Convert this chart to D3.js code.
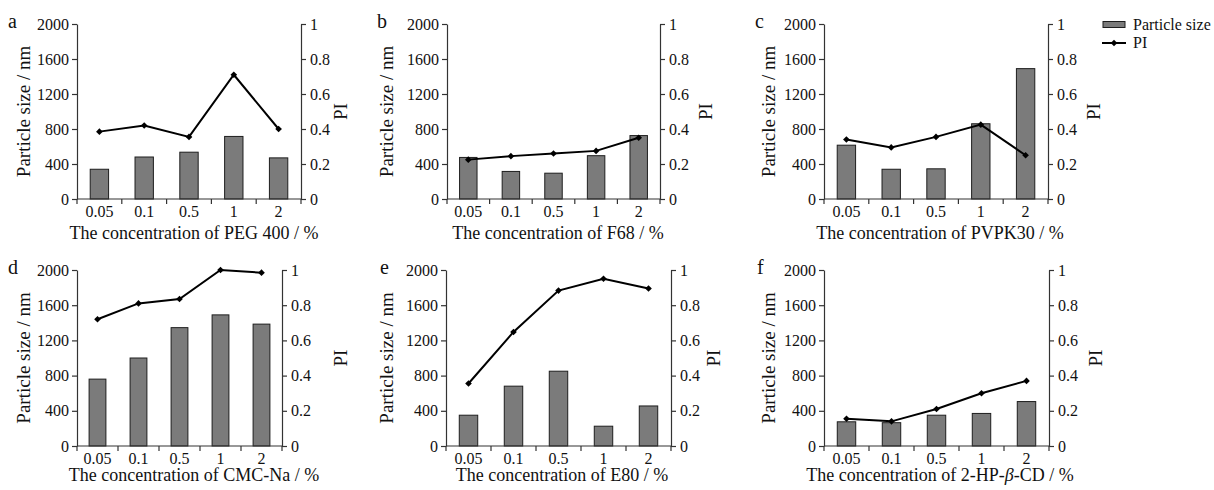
<!DOCTYPE html>
<html>
<head>
<meta charset="utf-8">
<script src="https://cdn.jsdelivr.net/npm/d3@7"></script>
<style>
  html, body { margin: 0; padding: 0; background: #fff; }
  svg { display: block; }
  svg text { font-family: "Liberation Serif", "Times New Roman", serif !important; }
</style>
</head>
<body>
<div id="container"></div>
<script>
// Concentrations on the x axis (same for all panels)
const categories = ["0.05", "0.1", "0.5", "1", "2"];

// Particle size (nm) and PI for each surfactant
const sizePEG = [340, 480, 535, 715, 470];
const piPEG = [0.385, 0.42, 0.355, 0.71, 0.40];
const sizeF68 = [475, 315, 295, 495, 725];
const piF68 = [0.225, 0.245, 0.26, 0.275, 0.35];
const sizePVP = [615, 340, 345, 860, 1490];
const piPVP = [0.34, 0.295, 0.355, 0.425, 0.25];
const sizeCMC = [760, 1000, 1345, 1490, 1385];
const piCMC = [0.72, 0.81, 0.835, 1.0, 0.985];
const sizeE80 = [350, 680, 850, 225, 455];
const piE80 = [0.355, 0.648, 0.883, 0.95, 0.895];
const sizeHPCD = [275, 265, 350, 370, 505];
const piHPCD = [0.155, 0.14, 0.21, 0.30, 0.37];

// Tick labels
const sizeTicks = [0, 400, 800, 1200, 1600, 2000];
const piTicks = [0, 0.2, 0.4, 0.6, 0.8, 1];

const width = 1214;
const height = 490;

const panels = [
  { letter: "a", title: ["The concentration of PEG 400 / %"], size: sizePEG, pi: piPEG,
    left: 77, right: 301, top: 24, bottom: 199, letterX: 8, yTitleX: 30, piX: 347, titleX: 194, titleY: 239 },
  { letter: "b", title: ["The concentration of F68 / %"], size: sizeF68, pi: piF68,
    left: 447, right: 660, top: 24, bottom: 199, letterX: 377, yTitleX: 393, piX: 712, titleX: 558, titleY: 239 },
  { letter: "c", title: ["The concentration of PVPK30 / %"], size: sizePVP, pi: piPVP,
    left: 824, right: 1048, top: 24, bottom: 199, letterX: 755, yTitleX: 775, piX: 1100, titleX: 940, titleY: 239 },
  { letter: "d", title: ["The concentration of CMC-Na / %"], size: sizeCMC, pi: piCMC,
    left: 77, right: 282, top: 270, bottom: 446, letterX: 8, yTitleX: 30, piX: 347, titleX: 194, titleY: 481 },
  { letter: "e", title: ["The concentration of E80 / %"], size: sizeE80, pi: piE80,
    left: 446, right: 671, top: 270, bottom: 446, letterX: 380, yTitleX: 393, piX: 720, titleX: 562, titleY: 481 },
  { letter: "f", title: ["The concentration of 2-HP-", "β", "-CD / %"], size: sizeHPCD, pi: piHPCD,
    left: 824, right: 1049, top: 270, bottom: 446, letterX: 757, yTitleX: 775, piX: 1102, titleX: 940, titleY: 481 },
];

const barFill = "#7b7b7b";
const barStroke = "#1e1e1e";
const axisColor = "#333";
const serif = "Liberation Serif, Times New Roman, serif";

const svg = d3.create("svg").attr("width", width).attr("height", height)
  .attr("font-family", serif);

function styleAxis(g) {
  g.attr("font-family", serif).attr("font-size", 16);
  g.select(".domain").attr("stroke", axisColor).attr("stroke-width", 1.2);
  g.selectAll(".tick line").attr("stroke", axisColor).attr("stroke-width", 1.2);
  g.selectAll(".tick text").attr("fill", "#111");
}

panels.forEach((p) => {
  const g = svg.append("g");

  const x = d3.scaleBand()
    .domain(categories)
    .range([p.left, p.right])
    .paddingInner(0.59)
    .paddingOuter(0.295);

  const yL = d3.scaleLinear().domain([0, 2000]).range([p.bottom, p.top]);
  const yR = d3.scaleLinear().domain([0, 1]).range([p.bottom, p.top]);

  // bars
  g.append("g")
    .selectAll("rect")
    .data(p.size)
    .join("rect")
    .attr("x", (d, i) => x(categories[i]))
    .attr("y", (d) => yL(d))
    .attr("width", x.bandwidth())
    .attr("height", (d) => yL(0) - yL(d))
    .attr("fill", barFill)
    .attr("stroke", barStroke)
    .attr("stroke-width", 1);

  // left axis
  g.append("g")
    .attr("transform", `translate(${p.left},0)`)
    .call(d3.axisLeft(yL).tickValues(sizeTicks).tickSize(5).tickSizeOuter(0).tickPadding(3)
      .tickFormat(d3.format("d")))
    .call(styleAxis);

  // right axis
  g.append("g")
    .attr("transform", `translate(${p.right},0)`)
    .call(d3.axisRight(yR).tickValues(piTicks).tickSize(5).tickSizeOuter(0).tickPadding(4)
      .tickFormat(d3.format("~g")))
    .call(styleAxis);

  // bottom axis: labels centred under bars, ticks at band edges
  const xAxis = g.append("g")
    .attr("transform", `translate(0,${p.bottom})`)
    .call(d3.axisBottom(x).tickSize(0).tickSizeOuter(0).tickPadding(7))
    .call(styleAxis);
  xAxis.select(".domain").attr("d", `M${p.left},0H${p.right}`);

  const edges = categories.map((c) => x(c) + x.bandwidth() / 2 - x.step() / 2);
  edges.push(edges[edges.length - 1] + x.step());
  xAxis.selectAll("line.edge")
    .data(edges)
    .join("line")
    .attr("class", "edge")
    .attr("x1", (d) => d).attr("x2", (d) => d)
    .attr("y1", 0).attr("y2", 5)
    .attr("stroke", axisColor).attr("stroke-width", 1.2);

  // PI line
  const line = d3.line()
    .x((d, i) => x(categories[i]) + x.bandwidth() / 2)
    .y((d) => yR(d));

  g.append("path")
    .datum(p.pi)
    .attr("d", line)
    .attr("fill", "none")
    .attr("stroke", "#000")
    .attr("stroke-width", 2);

  g.append("g")
    .selectAll("path")
    .data(p.pi)
    .join("path")
    .attr("d", d3.symbol(d3.symbolSquare, 22))
    .attr("transform", (d, i) =>
      `translate(${x(categories[i]) + x.bandwidth() / 2},${yR(d)}) rotate(45)`)
    .attr("fill", "#000");

  // axis titles
  g.append("text")
    .attr("transform", `translate(${p.yTitleX},${(p.top + p.bottom) / 2}) rotate(-90)`)
    .attr("text-anchor", "middle")
    .attr("font-size", 19)
    .attr("fill", "#111")
    .text("Particle size / nm");

  g.append("text")
    .attr("transform", `translate(${p.piX},${(p.top + p.bottom) / 2}) rotate(-90)`)
    .attr("text-anchor", "middle")
    .attr("font-size", 19)
    .attr("fill", "#111")
    .text("PI");

  const xt = g.append("text")
    .attr("x", p.titleX)
    .attr("y", p.titleY)
    .attr("text-anchor", "middle")
    .attr("font-size", 18)
    .attr("fill", "#111");
  p.title.forEach((part, i) => {
    const t = xt.append("tspan").text(part);
    if (i === 1) t.attr("font-style", "italic");
  });

  // panel letter
  g.append("text")
    .attr("x", p.letterX)
    .attr("y", p.top + 4)
    .attr("font-size", 20)
    .attr("fill", "#111")
    .text(p.letter);
});

// legend
const legend = svg.append("g");
legend.append("rect")
  .attr("x", 1103).attr("y", 21.5)
  .attr("width", 22).attr("height", 6)
  .attr("fill", barFill).attr("stroke", barStroke).attr("stroke-width", 1);
legend.append("text")
  .attr("x", 1133).attr("y", 29.5)
  .attr("font-size", 16).attr("fill", "#111")
  .text("Particle size");
legend.append("line")
  .attr("x1", 1102).attr("x2", 1126)
  .attr("y1", 43).attr("y2", 43)
  .attr("stroke", "#000").attr("stroke-width", 2);
legend.append("path")
  .attr("d", d3.symbol(d3.symbolSquare, 22))
  .attr("transform", "translate(1114,43) rotate(45)")
  .attr("fill", "#000");
legend.append("text")
  .attr("x", 1133).attr("y", 48)
  .attr("font-size", 16).attr("fill", "#111")
  .text("PI");

document.getElementById("container").append(svg.node());
</script>
</body>
</html>
